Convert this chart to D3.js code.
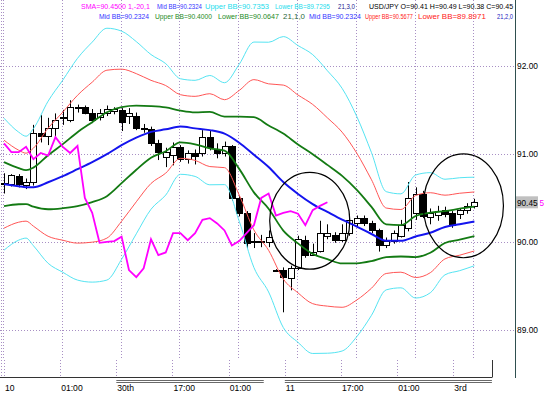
<!DOCTYPE html>
<html><head><meta charset="utf-8">
<script src="https://cdn.jsdelivr.net/npm/d3@7"></script>
<style>body{margin:0;background:#fff}svg{display:block;font-family:"Liberation Sans",Arial,sans-serif}</style>
</head><body><svg id="c" width="548" height="394"></svg>
<script>
// ---- candle data (hourly USD/JPY) ----
const open = [90.67,90.66,90.75,90.65,90.68,91.24,91.20,91.29,91.41,91.39,91.53,91.53,91.47,91.42,91.47,91.49,91.50,91.43,91.43,91.30,
91.28,91.12,90.96,90.99,91.08,90.94,91.01,91.01,91.19,91.06,91.01,91.09,90.50,90.33,90.01,90.00,90.00,89.68,89.68,89.59,
89.70,90.02,89.85,89.90,90.07,90.08,90.02,90.10,90.21,90.27,90.21,90.13,89.97,90.01,90.07,90.16,90.33,90.55,90.28,90.31,
90.36,90.33,90.32,90.36,90.41];
const high = [90.78,90.77,90.77,90.72,91.33,91.44,91.41,91.46,91.50,91.61,91.56,91.55,91.51,91.51,91.55,91.53,91.52,91.52,91.47,91.34,
91.31,91.16,91.07,91.13,91.10,91.04,91.05,91.27,91.27,91.12,91.14,91.10,90.52,90.35,90.10,90.08,90.13,89.69,89.71,89.73,
90.07,90.07,89.98,90.24,90.20,90.11,90.20,90.32,90.30,90.30,90.24,90.15,90.05,90.13,90.25,90.68,90.62,90.58,90.38,90.41,
90.40,90.35,90.38,90.44,90.49];
const low = [90.55,90.63,90.62,90.60,90.64,91.13,91.10,91.19,91.33,91.36,91.47,91.45,91.35,91.38,91.43,91.45,91.26,91.34,91.27,91.24,
91.09,90.93,90.85,90.87,90.91,90.89,90.88,90.97,91.04,90.95,90.97,90.47,90.29,89.93,89.93,89.94,89.94,89.67,89.20,89.45,
89.68,89.82,89.84,89.88,90.03,89.99,90.00,90.07,90.18,90.18,90.10,89.89,89.93,89.98,90.05,90.12,90.25,90.27,90.20,90.24,
90.28,90.16,90.26,90.32,90.38];
const close = [90.66,90.76,90.66,90.68,91.24,91.20,91.30,91.39,91.42,91.53,91.52,91.47,91.39,91.47,91.51,91.51,91.36,91.47,91.30,91.28,
91.12,91.02,91.02,91.08,90.94,91.01,90.98,91.19,91.08,91.01,91.09,90.50,90.33,89.99,90.00,90.01,90.06,89.68,89.60,89.70,
90.03,89.85,89.88,90.10,90.10,90.02,90.10,90.25,90.27,90.21,90.13,89.96,90.01,90.10,90.19,90.50,90.55,90.30,90.33,90.35,
90.32,90.19,90.36,90.41,90.45];

// ---- SMA(1) shifted -20 (magenta), candle index 0..44 ----
const smaShift = [91.12,91.02,91.02,91.08,90.94,91.01,90.98,91.19,91.08,91.01,91.09,90.50,90.33,89.99,90.00,90.01,90.06,89.68,89.60,89.70,
90.03,89.85,89.88,90.10,90.10,90.02,90.10,90.25,90.27,90.21,90.13,89.96,90.01,90.10,90.19,90.50,90.55,90.30,90.33,90.35,
90.32,90.19,90.36,90.41,90.45];

// ---- Bollinger bands (21), read at these candles ----
const bandIdx = [0,2,3,4,6,8,10,12,14,16,18,20,22,24,26,28,30,32,34,36,38,40,42,44,46,48,50,52,54,56,58,60,62,64];
const bbMid = [90.656,90.633,90.622,90.622,90.678,90.747,90.826,90.906,90.997,91.099,91.184,91.250,91.279,91.311,91.290,91.270,91.230,91.127,90.990,90.850,90.680,
90.545,90.430,90.340,90.252,90.174,90.090,90.013,90.012,90.061,90.104,90.169,90.201,90.2324];
const bb1Up = [90.906,90.838,90.815,90.844,90.985,91.111,91.246,91.361,91.474,91.531,91.548,91.543,91.528,91.492,91.472,91.477,91.423,91.424,91.417,91.323,91.231,
91.107,90.996,90.875,90.750,90.591,90.398,90.199,90.190,90.294,90.332,90.350,90.377,90.400];
const bb1Lo = [90.406,90.428,90.429,90.400,90.371,90.383,90.406,90.452,90.520,90.667,90.820,90.957,91.030,91.130,91.108,91.063,91.037,90.830,90.563,90.377,90.129,
89.983,89.864,89.805,89.755,89.757,89.782,89.827,89.834,89.828,89.877,89.988,90.025,90.0647];
const bb2Up = [91.156,91.042,91.008,91.065,91.292,91.475,91.666,91.815,91.951,91.963,91.912,91.836,91.777,91.673,91.654,91.684,91.616,91.721,91.844,91.796,91.782,
91.669,91.562,91.410,91.247,91.008,90.706,90.385,90.368,90.527,90.559,90.531,90.553,90.5677];
const bb2Lo = [90.156,90.224,90.236,90.179,90.064,90.019,89.986,89.997,90.043,90.235,90.456,90.664,90.781,90.949,90.926,90.856,90.844,90.533,90.136,89.904,89.578,
89.421,89.298,89.270,89.257,89.340,89.474,89.641,89.656,89.595,89.650,89.807,89.849,89.8971];
const bb3Up = [91.406,91.247,91.201,91.287,91.599,91.839,92.086,92.270,92.428,92.395,92.276,92.129,92.026,91.854,91.836,91.891,91.809,92.018,92.271,92.269,92.333,
92.231,92.128,91.945,91.745,91.425,91.014,90.571,90.546,90.760,90.787,90.712,90.729,90.7353];
const bb3Lo = [89.906,90.020,90.043,89.957,89.757,89.655,89.566,89.543,89.566,89.803,90.092,90.371,90.532,90.768,90.744,90.649,90.651,90.236,89.709,89.431,89.027,
88.859,88.732,88.735,88.760,88.923,89.166,89.455,89.478,89.362,89.422,89.626,89.673,89.7295];

// ---- axes / labels ----
const priceTicks = [89, 90, 91, 92];
const timeLabels = ["10","01:00","30th","17:00","01:00","11","17:00","01:00","3rd"];
const timeIdx = [0,8,16,24,32,40,48,56,64];
const lastPrice = 90.45;

// annotation ellipses: [centre index, centre price, half-width in candles, half-height in price]
const ellipses = [[41.6, 90.24, 5.45, 0.55], [62.5, 90.41, 5.45, 0.59]];

const svg = d3.select("#c");
const plotR = 515, plotB = 377;
const x = d3.scaleLinear().domain([0, 64]).range([4, 474.4]);
const y = d3.scaleLinear().domain([89, 92]).range([329.9, 65.9]);
const xSub = d3.scaleLinear().domain([0, 64]).range([4, 453.3]);

svg.append("defs").append("clipPath").attr("id","pc").append("rect")
  .attr("x",0).attr("y",0).attr("width",plotR).attr("height",plotB);

const gridC = "#a88fc4";
const g = svg.append("g");
priceTicks.forEach(v => {
  const yy = Math.round(y(v)) + 0.5;
  g.append("line").attr("x1",0).attr("x2",plotR).attr("y1",yy).attr("y2",yy)
    .attr("stroke",gridC).attr("stroke-dasharray","1,2");
});
timeIdx.forEach(i => {
  const xx = Math.round(x(i)) - 0.5;
  g.append("line").attr("x1",xx).attr("x2",xx).attr("y1",0).attr("y2",358)
    .attr("stroke",gridC).attr("stroke-dasharray","1,2");
});
timeIdx.forEach(i => {
  const xx = Math.round(xSub(i)) + 0.5;
  g.append("line").attr("x1",xx).attr("x2",xx).attr("y1",360).attr("y2",plotB)
    .attr("stroke",gridC).attr("stroke-dasharray","1,2");
});
g.append("line").attr("x1",1.5).attr("x2",1.5).attr("y1",0).attr("y2",plotB)
  .attr("stroke",gridC).attr("stroke-dasharray","1,2");

// candles
const cg = svg.append("g").attr("clip-path","url(#pc)");
close.forEach((c,i) => {
  const o = open[i];
  const xx = Math.round(x(i)) + 0.5;
  cg.append("line").attr("x1",xx).attr("x2",xx).attr("y1",y(high[i])).attr("y2",y(low[i]))
    .attr("stroke","#000").attr("stroke-width",1);
  const t = Math.round(y(Math.max(o,c))) + 0.5, b = Math.round(y(Math.min(o,c))) + 0.5;
  cg.append("rect").attr("x",xx-3).attr("y",t).attr("width",6).attr("height",Math.max(1,b-t))
    .attr("fill", c < o ? "#000" : "#fff").attr("stroke","#000").attr("stroke-width",1);
});

// lines
const lg = svg.append("g").attr("clip-path","url(#pc)");
const mk = (xs, ys) => d3.line().x((d,k)=>x(xs[k])).y(d=>y(d)).curve(d3.curveMonotoneX)(ys);
const band = (arr, col, w) => lg.append("path").attr("d", mk(bandIdx, arr))
  .attr("fill","none").attr("stroke",col).attr("stroke-width",w);
band(bb3Up, "#55e4f2", 1); band(bb3Lo, "#55e4f2", 1);
band(bb2Up, "#ff5555", 1); band(bb2Lo, "#ff5555", 1);
band(bb1Up, "#137a13", 1.8); band(bb1Lo, "#137a13", 1.8);
band(bbMid, "#1414ee", 2);
lg.append("path").attr("d", d3.line().x((d,k)=>x(k)).y(d=>y(d))(smaShift))
  .attr("fill","none").attr("stroke","#ff00ff").attr("stroke-width",1.8);

// ellipses
ellipses.forEach(e => {
  svg.append("ellipse").attr("cx", x(e[0])).attr("cy", y(e[1]))
    .attr("rx", x(e[0]+e[2]) - x(e[0])).attr("ry", y(e[1]-e[3]) - y(e[1]))
    .attr("fill","none").attr("stroke","#000").attr("stroke-width",1.2);
});

// frame
svg.append("line").attr("x1",plotR+0.5).attr("x2",plotR+0.5).attr("y1",0).attr("y2",plotB+1)
  .attr("stroke","#2f4f4f").attr("stroke-width",1);
svg.append("line").attr("x1",0).attr("x2",492).attr("y1",plotB+0.5).attr("y2",plotB+0.5)
  .attr("stroke","#333").attr("stroke-width",1);
svg.append("line").attr("x1",492.5).attr("x2",492.5).attr("y1",360).attr("y2",plotB+0.5)
  .attr("stroke","#333").attr("stroke-width",1);

// text fitted to a target width by horizontal scaling
function fitText(px, py, w, size, col, str) {
  const t = svg.append("text").attr("x",0).attr("y",0).attr("font-size",size+"px")
    .attr("fill",col).text(str);
  const nat = t.node().getComputedTextLength();
  t.attr("transform", `translate(${px},${py}) scale(${(w/nat).toFixed(4)},1)`);
  return t;
}

// y axis labels
priceTicks.forEach(v => {
  svg.append("text").attr("x",517).attr("y",y(v)+3.2).attr("font-size","8.4px")
    .attr("fill","#000").text(d3.format(".2f")(v));
});
// last price tag
svg.append("rect").attr("x",516).attr("y",y(lastPrice)-6).attr("width",22).attr("height",12).attr("fill","#c0c0c0");
fitText(517, y(lastPrice)+3.2, 20.5, 8.2, "#000", d3.format(".2f")(lastPrice));
svg.append("text").attr("x",539.5).attr("y",y(lastPrice)+3.2).attr("font-size","8.2px")
  .attr("fill","#ff00ff").text("5");

// time labels
timeLabels.forEach((t,k) => {
  svg.append("text").attr("x", xSub(timeIdx[k]) + 1).attr("y", 391).attr("font-size","8.6px")
    .attr("fill","#000").text(t);
});
[[16,37],[40,69.5]].forEach(s => {
  [380.5, 382.5].forEach(yy => svg.append("line").attr("x1", xSub(s[0])).attr("x2", xSub(s[1]))
    .attr("y1",yy).attr("y2",yy).attr("stroke","#444").attr("stroke-width",0.8));
});

// legend
const leg = [
  [81, 8.5, 69, "#ff00ff", "SMA=90.4500  1,-20,1"],
  [157, 8.5, 45, "#3434ff", "Mid BB=90.2324"],
  [205, 8.5, 64, "#22dcec", "Upper BB=90.7353"],
  [275, 8.5, 55, "#22dcec", "Lower BB=89.7295"],
  [338, 8.5, 17, "#202090", "21,3,0"],
  [369, 8.5, 144, "#000", "USD/JPY O=90.41 H=90.49 L=90.38 C=90.45"],
  [99, 18.5, 50, "#3434ff", "Mid BB=90.2324"],
  [155, 18.5, 57, "#1c8a1c", "Upper BB=90.4000"],
  [218, 18.5, 61, "#1c8a1c", "Lower BB=90.0647"],
  [283, 18.5, 22, "#2a6a3a", "21,1,0"],
  [309, 18.5, 52, "#3434ff", "Mid BB=90.2324"],
  [365, 18.5, 48, "#ff2020", "Upper BB=90.5677"],
  [418, 18.5, 68, "#ff2020", "Lower BB=89.8971"],
  [497, 18.5, 16, "#2020c0", "21,2,0"]
];
leg.forEach(l => fitText(l[0], l[1], l[2], 7.6, l[3], l[4]));
</script></body></html>
